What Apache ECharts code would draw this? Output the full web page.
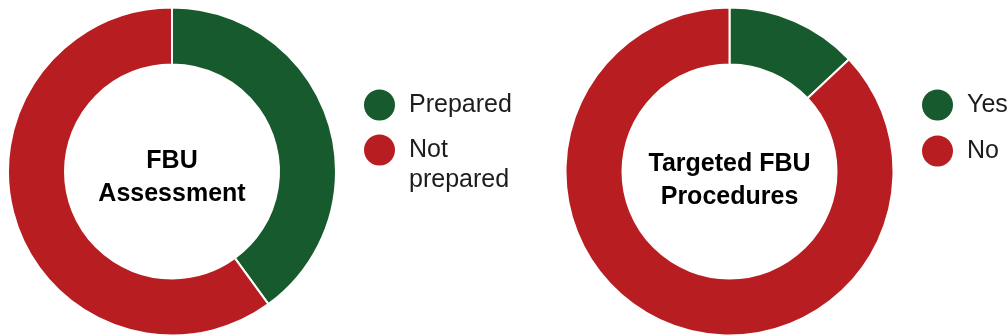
<!DOCTYPE html>
<html>
<head>
<meta charset="utf-8">
<script src="https://cdn.jsdelivr.net/npm/echarts@6/dist/echarts.min.js"></script>
<style>
  html, body { margin: 0; padding: 0; background: #fff; }
  #chart { width: 1008px; height: 336px; }
</style>
</head>
<body>
<div id="chart"></div>
<script>
// Donut 1: FBU assessment readiness
const assessmentTitle = 'FBU\nAssessment';
const assessmentCategories = ['Prepared', 'Not prepared'];
const assessmentLegendLabels = ['Prepared', '\nNot\nprepared'];
const assessmentValues = [40, 60];

// Donut 2: whether targeted FBU procedures exist
const proceduresTitle = 'Targeted FBU\nProcedures';
const proceduresCategories = ['Yes', 'No'];
const proceduresLegendLabels = ['Yes', 'No'];
const proceduresValues = [13, 87];

const GREEN = '#175a2d';
const RED = '#b81e21';
const sliceColors = [GREEN, RED];
const FONT = '"Liberation Sans", Arial, Helvetica, sans-serif';

function donut(name, categories, values, center) {
  return {
    name: name,
    type: 'pie',
    center: center,
    radius: [107, 164],
    startAngle: 90,
    clockwise: true,
    silent: true,
    emphasis: { disabled: true, scale: false },
    itemStyle: { borderColor: '#ffffff', borderWidth: 2 },
    label: { show: false },
    labelLine: { show: false },
    data: categories.map((c, i) => ({
      name: c,
      value: values[i],
      itemStyle: { color: sliceColors[i] }
    }))
  };
}

// Bold caption in the hole of each donut
function caption(text, x, y) {
  return {
    text: text,
    left: x,
    top: y,
    padding: 0,
    textAlign: 'center',
    textVerticalAlign: 'middle',
    textStyle: {
      fontFamily: FONT,
      fontWeight: 'bold',
      fontSize: 25,
      lineHeight: 33,
      color: '#000000'
    }
  };
}

function legendItem(seriesName, label, left, top) {
  return {
    show: true,
    orient: 'vertical',
    left: left,
    top: top,
    padding: 0,
    itemWidth: 33,
    itemHeight: 33,
    icon: 'circle',
    selectedMode: false,
    data: [seriesName],
    formatter: () => label,
    textStyle: {
      fontFamily: FONT,
      fontSize: 25,
      lineHeight: 30,
      color: '#1c1c1c',
      padding: [0, 0, 0, 8]
    }
  };
}

const chart = echarts.init(document.getElementById('chart'), null, { renderer: 'canvas' });

chart.setOption({
  animation: false,
  backgroundColor: '#ffffff',
  title: [
    caption(assessmentTitle, 172, 178),
    caption(proceduresTitle, 729.5, 181)
  ],
  legend: [
    legendItem(assessmentCategories[0], assessmentLegendLabels[0], 362, 87.5),
    legendItem(assessmentCategories[1], assessmentLegendLabels[1], 362, 105),
    legendItem(proceduresCategories[0], proceduresLegendLabels[0], 920, 87.5),
    legendItem(proceduresCategories[1], proceduresLegendLabels[1], 920, 133.5)
  ],
  series: [
    donut('assessment', assessmentCategories, assessmentValues, [172, 171.5]),
    donut('procedures', proceduresCategories, proceduresValues, [729.5, 171.5])
  ]
});
</script>
</body>
</html>
